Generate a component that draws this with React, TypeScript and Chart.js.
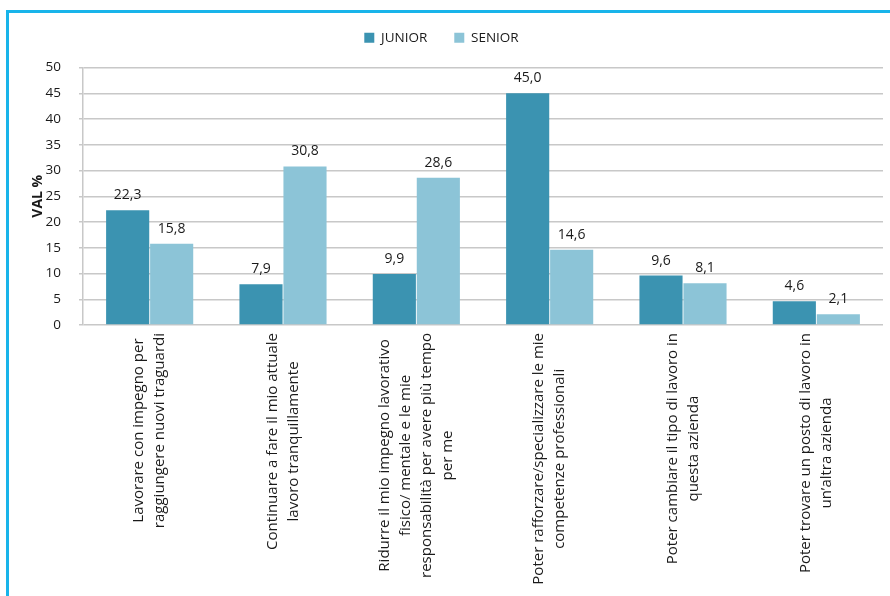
import React, { useEffect, useRef } from "react";
import { Chart, registerables } from "chart.js";

Chart.register(...registerables);

const categories: string[][] = [
  ["Lavorare con impegno per", "raggiungere nuovi traguardi"],
  ["Continuare a fare il mio attuale", "lavoro tranquillamente"],
  ["Ridurre il mio impegno lavorativo", "fisico/ mentale e le mie", "responsabilità per avere più tempo", "per me"],
  ["Poter rafforzare/specializzare le mie", "competenze professionali"],
  ["Poter cambiare il tipo di lavoro in", "questa azienda"],
  ["Poter trovare un posto di lavoro in", "un’altra azienda"],
];
const juniorValues = [22.3, 7.9, 9.9, 45.0, 9.6, 4.6];
const seniorValues = [15.8, 30.8, 28.6, 14.6, 8.1, 2.1];
const seriesNames = ["JUNIOR", "SENIOR"];
const yAxisTitle = "VAL %";
const yMin = 0;
const yMax = 50;
const yStep = 5;

const FONT = "'Open Sans', Lato, sans-serif";
const TEXT = "#1a1a1a";

const framePlugin = {
  id: "frame",
  beforeDraw(chart: any) {
    const ctx = chart.ctx;
    ctx.save();
    ctx.fillStyle = "#ffffff";
    ctx.fillRect(0, 0, chart.width, chart.height);
    ctx.strokeStyle = "#18b4ea";
    ctx.lineWidth = 3;
    ctx.beginPath();
    ctx.moveTo(7.5, chart.height);
    ctx.lineTo(7.5, 11.5);
    ctx.lineTo(chart.width, 11.5);
    ctx.stroke();
    ctx.restore();
  },
};

const valueLabelPlugin = {
  id: "valueLabels",
  afterDatasetsDraw(chart: any) {
    const ctx = chart.ctx;
    ctx.save();
    ctx.font = `14px ${FONT}`;
    ctx.fillStyle = TEXT;
    ctx.textAlign = "center";
    ctx.textBaseline = "bottom";
    chart.data.datasets.forEach((ds: any, di: number) => {
      const meta = chart.getDatasetMeta(di);
      meta.data.forEach((bar: any, i: number) => {
        const v = ds.data[i] as number;
        ctx.fillText(v.toFixed(1).replace(".", ","), bar.x, bar.y - 8);
      });
    });
    ctx.restore();
  },
};

const xLabelPlugin = {
  id: "xLabels",
  afterDraw(chart: any) {
    const ctx = chart.ctx;
    const xScale = chart.scales.x;
    const top = chart.chartArea.bottom + 8;
    const lineH = 21;
    ctx.save();
    ctx.font = `15px ${FONT}`;
    ctx.fillStyle = TEXT;
    ctx.textAlign = "center";
    ctx.textBaseline = "middle";
    (chart.data.labels as string[][]).forEach((lines, i) => {
      const x = xScale.getPixelForValue(i);
      const w = Math.max(...lines.map((l) => ctx.measureText(l).width));
      ctx.save();
      ctx.translate(x, top);
      ctx.rotate(-Math.PI / 2);
      lines.forEach((l, k) => {
        ctx.fillText(l, -w / 2, (k - (lines.length - 1) / 2) * lineH);
      });
      ctx.restore();
    });
    ctx.restore();
  },
};

export default function App() {
  const ref = useRef<HTMLCanvasElement>(null);
  useEffect(() => {
    if (!ref.current) return;
    const chart = new Chart(ref.current, {
      type: "bar",
      data: {
        labels: categories,
        datasets: [
          {
            label: seriesNames[0],
            data: juniorValues,
            backgroundColor: "#3b93b1",
            barPercentage: 0.98,
            categoryPercentage: 0.66,
          },
          {
            label: seriesNames[1],
            data: seniorValues,
            backgroundColor: "#8cc4d7",
            barPercentage: 0.98,
            categoryPercentage: 0.66,
          },
        ],
      },
      options: {
        responsive: false,
        animation: false,
        layout: { padding: { top: 4, right: 7, bottom: 271, left: 0 } },
        plugins: {
          legend: {
            position: "top",
            labels: {
              boxWidth: 10,
              boxHeight: 10,
              padding: 27,
              color: TEXT,
              font: { family: FONT, size: 13.5 },
            },
          },
          subtitle: {
            display: true,
            position: "top",
            weight: 500,
            text: "",
            padding: 0,
            font: { size: 13, lineHeight: 1 },
          },
          tooltip: { enabled: false },
        },
        scales: {
          x: {
            grid: { display: false, drawTicks: false },
            border: { display: false },
            ticks: { display: false },
          },
          y: {
            min: yMin,
            max: yMax,
            ticks: {
              stepSize: yStep,
              color: TEXT,
              padding: 18,
              font: { family: FONT, size: 13.5 },
            },
            grid: { color: "#c8c8c8", lineWidth: 1.5, tickLength: 4 },
            border: { display: true, color: "#c8c8c8", width: 1.5 },
            title: {
              display: true,
              text: yAxisTitle,
              color: TEXT,
              padding: { top: 30, bottom: 0 },
              font: { family: FONT, size: 14, weight: "bold" },
            },
            afterFit(scale: any) {
              scale.width = 83;
            },
          },
        },
      },
      plugins: [framePlugin, valueLabelPlugin, xLabelPlugin],
    });
    return () => chart.destroy();
  }, []);
  return (
    <div style={{ position: "absolute", left: 0, top: 0, width: 890, height: 596 }}>
      <canvas ref={ref} width={890} height={596} style={{ display: "block" }} />
    </div>
  );
}
